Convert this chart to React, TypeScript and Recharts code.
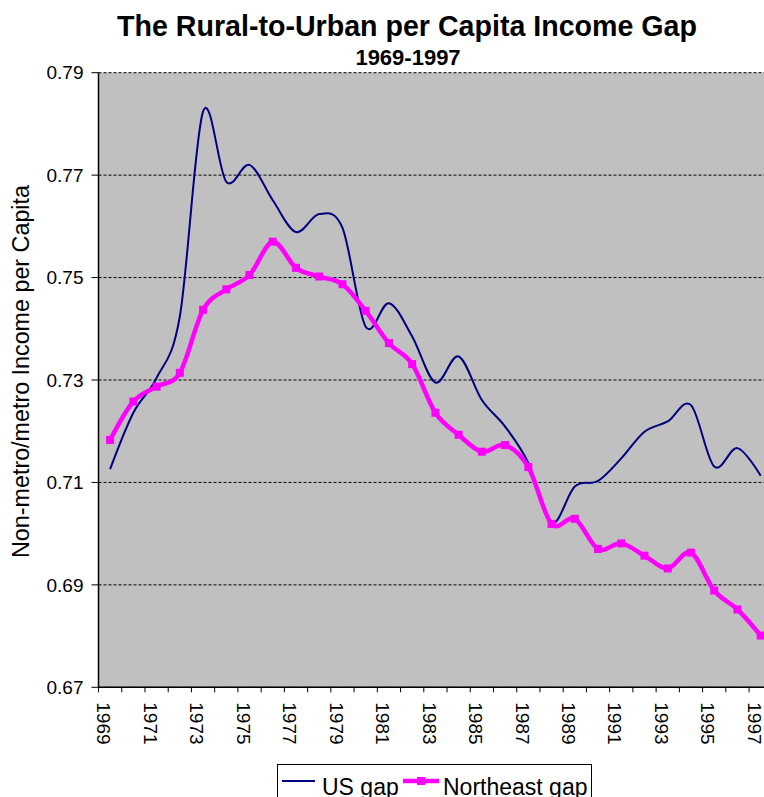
import React from "react";
import { LineChart, Line, XAxis, YAxis, CartesianGrid, Legend } from "recharts";

const YEARS = [1969,1970,1971,1972,1973,1974,1975,1976,1977,1978,1979,1980,1981,1982,1983,1984,1985,1986,1987,1988,1989,1990,1991,1992,1993,1994,1995,1996,1997];
const US_GAP = [0.7126,0.7236,0.7304,0.7424,0.7824,0.7687,0.772,0.7651,0.7589,0.7624,0.7597,0.7404,0.745,0.7385,0.7295,0.7346,0.7261,0.7209,0.7138,0.7021,0.7092,0.7103,0.7147,0.7199,0.7219,0.7251,0.7131,0.7167,0.7113];
const NE_GAP = [0.7183,0.7258,0.7287,0.7314,0.7437,0.7477,0.7505,0.757,0.7519,0.7502,0.7487,0.7435,0.7372,0.7331,0.7236,0.7193,0.716,0.7173,0.713,0.7019,0.7029,0.697,0.6981,0.6957,0.6932,0.6963,0.6889,0.6852,0.6801];
const Y_TICKS = [0.67,0.69,0.71,0.73,0.75,0.77,0.79];
const X_LABEL_YEARS = [1969,1971,1973,1975,1977,1979,1981,1983,1985,1987,1989,1991,1993,1995,1997];
const TITLE = "The Rural-to-Urban per Capita Income Gap";
const SUBTITLE = "1969-1997";
const Y_LABEL = "Non-metro/metro Income per Capita";
const SERIES_NAMES = ["US gap", "Northeast gap"];

const BOUNDARIES = [...YEARS.map((y) => y - 0.5), YEARS[YEARS.length - 1] + 0.5];
const X_DOMAIN = [BOUNDARIES[0], BOUNDARIES[BOUNDARIES.length - 1]];

const data = YEARS.map((year, i) => ({ year, us: US_GAP[i], ne: NE_GAP[i] }));

const FONT = "'Liberation Sans', Arial, sans-serif";
const NAVY = "#000080";
const MAGENTA = "#FF00FF";

// Excel-like smoothed line (cardinal spline, tension 0)
function smoothCurve(context: any) {
  const k = 1 / 6;
  const s: any = {};
  const seg = (x: number, y: number) => {
    context.bezierCurveTo(
      s._x1 + k * (s._x2 - s._x0),
      s._y1 + k * (s._y2 - s._y0),
      s._x2 + k * (s._x1 - x),
      s._y2 + k * (s._y1 - y),
      s._x2,
      s._y2
    );
  };
  return {
    areaStart() { s._line = 0; },
    areaEnd() { s._line = NaN; },
    lineStart() {
      s._x0 = s._x1 = s._x2 = s._y0 = s._y1 = s._y2 = NaN;
      s._point = 0;
    },
    lineEnd() {
      switch (s._point) {
        case 2: context.lineTo(s._x2, s._y2); break;
        case 3: seg(s._x1, s._y1); break;
      }
      if (s._line || (s._line !== 0 && s._point === 1)) context.closePath();
      s._line = 1 - s._line;
    },
    point(x: number, y: number) {
      x = +x; y = +y;
      switch (s._point) {
        case 0: s._point = 1; s._line ? context.lineTo(x, y) : context.moveTo(x, y); break;
        case 1: s._point = 2; s._x1 = x; s._y1 = y; break;
        case 2: s._point = 3; seg(x, y); break;
        default: seg(x, y); break;
      }
      s._x0 = s._x1; s._x1 = s._x2; s._x2 = x;
      s._y0 = s._y1; s._y1 = s._y2; s._y2 = y;
    },
  };
}

const YearTick = (props: any) => {
  const { x, y, payload } = props;
  return (
    <g transform={`translate(${x - 12.8},${y + 10})`}>
      <text transform="rotate(90)" x={0} y={0} textAnchor="start" fontSize={19} fontFamily={FONT} fill="#000">
        {payload.value}
      </text>
    </g>
  );
};

const SquareDot = (props: any) => {
  const { cx, cy, index } = props;
  if (cx == null || cy == null) return <g key={`d${index}`} />;
  return <rect key={`d${index}`} x={cx - 4} y={cy - 4} width={8} height={8} fill={MAGENTA} />;
};

const LegendBox = () => (
  <svg width={316} height={40} style={{ display: "block", overflow: "visible" }}>
    <rect x={0.5} y={0.5} width={314} height={45} fill="#fff" stroke="#000" strokeWidth={1} />
    <line x1={5} x2={38} y1={17} y2={17} stroke={NAVY} strokeWidth={2} />
    <text x={45} y={31} fontSize={23} fontFamily={FONT} fill="#000">{SERIES_NAMES[0]}</text>
    <line x1={126} x2={162} y1={17} y2={17} stroke={MAGENTA} strokeWidth={4.5} />
    <rect x={140} y={13} width={8} height={8} fill={MAGENTA} />
    <text x={166} y={31} fontSize={23} fontFamily={FONT} fill="#000">{SERIES_NAMES[1]}</text>
  </svg>
);

export default function App() {
  return (
    <div style={{ position: "absolute", left: 0, top: 0, width: 764, height: 797, background: "#fff", overflow: "hidden" }}>
      <LineChart width={764} height={797} data={data} margin={{ top: 72.7, right: -8.3, bottom: 0, left: 0 }}>
        <CartesianGrid xAxisId="a_marks" vertical={false} horizontal={true} fill="#C0C0C0" fillOpacity={1} stroke="#000" strokeDasharray="3 2" />
        <XAxis
          xAxisId="a_marks"
          dataKey="year"
          type="number"
          domain={X_DOMAIN}
          ticks={BOUNDARIES}
          interval={0}
          tickFormatter={() => ""}
          tickSize={5}
          height={5}
          stroke="#000"
          axisLine={{ stroke: "#000", strokeWidth: 1.5 }}
          tickLine={{ stroke: "#000" }}
        />
        <XAxis
          xAxisId="b_labels"
          dataKey="year"
          type="number"
          domain={X_DOMAIN}
          ticks={X_LABEL_YEARS}
          interval={0}
          tickLine={false}
          axisLine={false}
          tickSize={0}
          tickMargin={0}
          height={104.7}
          tick={<YearTick />}
        />
        <YAxis
          type="number"
          domain={[0.67, 0.79]}
          ticks={Y_TICKS}
          interval={0}
          width={98.5}
          tickSize={7}
          tickMargin={8}
          tickFormatter={(v: number) => v.toFixed(2)}
          tick={{ fontSize: 19, fontFamily: FONT, fill: "#000" }}
          axisLine={{ stroke: "#000", strokeWidth: 1.5 }}
          tickLine={{ stroke: "#000" }}
        />
        <Line
          xAxisId="b_labels"
          dataKey="us"
          name={SERIES_NAMES[0]}
          type={smoothCurve as any}
          stroke={NAVY}
          strokeWidth={2}
          dot={false}
          activeDot={false}
          isAnimationActive={false}
        />
        <Line
          xAxisId="b_labels"
          dataKey="ne"
          name={SERIES_NAMES[1]}
          type={smoothCurve as any}
          stroke={MAGENTA}
          strokeWidth={4.5}
          dot={SquareDot}
          activeDot={false}
          isAnimationActive={false}
        />
        <Legend
          layout="horizontal"
          verticalAlign="middle"
          align="center"
          wrapperStyle={{ position: "absolute", left: 276.7, top: 764, width: 316, height: 40, margin: 0, padding: 0 }}
          content={() => <LegendBox />}
        />
      </LineChart>
      <svg width={764} height={797} style={{ position: "absolute", left: 0, top: 0, pointerEvents: "none" }}>
        <text x={407} y={36} textAnchor="middle" fontSize={28.6} fontWeight="bold" fontFamily={FONT} fill="#000">{TITLE}</text>
        <text x={408} y={65} textAnchor="middle" fontSize={22} fontWeight="bold" fontFamily={FONT} fill="#000">{SUBTITLE}</text>
        <text transform="translate(28.5,371.5) rotate(-90)" x={0} y={0} textAnchor="middle" fontSize={23.3} fontFamily={FONT} fill="#000">{Y_LABEL}</text>
      </svg>
    </div>
  );
}
